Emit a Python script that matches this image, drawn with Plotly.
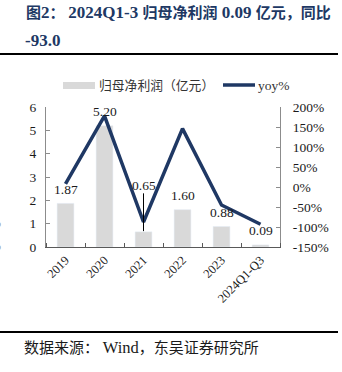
import plotly.graph_objects as go

categories = ["2019", "2020", "2021", "2022", "2023", "2024Q1-Q3"]
profit = [1.87, 5.20, 0.65, 1.60, 0.88, 0.09]
yoy = [8, 178, -87.5, 146, -45, -93]
profit_labels = ["1.87", "5.20", "0.65", "1.60", "0.88", "0.09"]
left_ticks = [0, 1, 2, 3, 4, 5, 6]
right_ticks = [-150, -100, -50, 0, 50, 100, 150, 200]
right_tick_text = ["-150%", "-100%", "-50%", "0%", "50%", "100%", "150%", "200%"]

SERIF = "Times New Roman, Liberation Serif, serif"
CJK = "Liberation Serif, Noto Sans CJK SC, sans-serif"

W, H = 342, 372
ML, MR, MT, MB = 46, 62, 107, 125
PW, PH = W - ML - MR, H - MT - MB


def px(x):
    return (x - ML) / PW


def py(y):
    return (H - MB - y) / PH


def lat(s, size):
    return f'<span style="font-size:{size}px">{s}</span>'


xs = list(range(len(categories)))

fig = go.Figure()
fig.add_trace(go.Bar(x=xs, y=profit, marker_color="#d9d9d9", width=0.43,
                     name="归母净利润（亿元）", showlegend=False))
fig.add_trace(go.Scatter(x=xs, y=yoy, yaxis="y2", mode="lines",
                         line=dict(color="#1f3864", width=3.5), name="yoy%", showlegend=False))

annotations = []
label_shift = {2: 46}
for i, (v, t) in enumerate(zip(profit, profit_labels)):
    annotations.append(dict(x=xs[i], y=v, xref="x", yref="y", text=t, showarrow=False,
                            yanchor="middle", yshift=label_shift.get(i, 14),
                            font=dict(family=SERIF, size=13.5, color="#1a1a1a")))

# leader line for 2021 label
shapes = [dict(type="line", xref="x", yref="y", x0=xs[2], x1=xs[2],
               y0=0.68, y1=2.3, line=dict(color="#000000", width=1))]

# legend (manual)
shapes.append(dict(type="rect", xref="paper", yref="paper", x0=px(63), x1=px(95),
                   y0=py(89), y1=py(82), fillcolor="#d9d9d9", line=dict(width=0)))
annotations.append(dict(x=px(97), y=py(85.5), xref="paper", yref="paper", xanchor="left",
                        yanchor="middle", text="归母净利润（亿元）", showarrow=False,
                        font=dict(family=CJK, size=12.8, color="#333333")))
shapes.append(dict(type="line", xref="paper", yref="paper", x0=px(223), x1=px(255),
                   y0=py(85), y1=py(85), line=dict(color="#1f3864", width=3.5)))
annotations.append(dict(x=px(256), y=py(85.5), xref="paper", yref="paper", xanchor="left",
                        yanchor="middle", text="yoy%", showarrow=False,
                        font=dict(family=SERIF, size=13.5, color="#333333")))

# title
title1 = ("<b>图" + lat("2", 17) + "： " + lat("2024Q1-3 ", 17) + "归母净利润"
          + lat(" 0.09 ", 17) + "亿元，同比</b>")
annotations.append(dict(x=px(24), y=py(12), xref="paper", yref="paper", xanchor="left",
                        yanchor="middle", showarrow=False, text=title1,
                        font=dict(family=CJK, size=15, color="#203864")))
annotations.append(dict(x=px(23), y=py(41), xref="paper", yref="paper", xanchor="left",
                        yanchor="middle", showarrow=False, text="<b>-93.0</b>",
                        font=dict(family=CJK, size=17, color="#203864")))
shapes.append(dict(type="line", xref="paper", yref="paper", x0=px(0), x1=px(338),
                   y0=py(54), y1=py(54), line=dict(color="#000000", width=2)))
shapes.append(dict(type="line", xref="paper", yref="paper", x0=px(0), x1=px(338),
                   y0=py(332), y1=py(332), line=dict(color="#000000", width=2)))
source = "数据来源： " + lat("Wind", 16.5) + "，东吴证券研究所"
annotations.append(dict(x=px(22), y=py(347), xref="paper", yref="paper", xanchor="left",
                        yanchor="middle", showarrow=False, text=source,
                        font=dict(family=CJK, size=15, color="#1a1a1a")))
# clipped glyphs at left edge
for yy in (223, 246):
    annotations.append(dict(x=px(3), y=py(yy), xref="paper", yref="paper", xanchor="right",
                            yanchor="middle", showarrow=False, text="%",
                            font=dict(family=SERIF, size=12, color="#999999")))

fig.update_layout(
    width=W, height=H, margin=dict(l=ML, r=MR, t=MT, b=MB),
    paper_bgcolor="white", plot_bgcolor="white", showlegend=False,
    xaxis=dict(range=[-0.5, len(categories) - 0.5], tickvals=xs, ticktext=categories,
               tickangle=-45, ticks="", showline=True, linecolor="#595959",
               linewidth=1, showgrid=False, zeroline=False,
               minor=dict(tick0=0.5, dtick=1, ticks="inside", ticklen=4,
                          tickcolor="#595959", showgrid=False),
               tickfont=dict(family=SERIF, size=12.5, color="#1a1a1a")),
    yaxis=dict(range=[0, 6], tickvals=left_ticks, ticks="inside", ticklen=4,
               tickcolor="#8c8c8c", showline=True, linecolor="#8c8c8c", linewidth=1,
               showgrid=False, zeroline=False, ticklabelstandoff=6,
               tickfont=dict(family=SERIF, size=13.5, color="#1a1a1a")),
    yaxis2=dict(range=[-150, 200], overlaying="y", side="right", tickvals=right_ticks,
                ticktext=right_tick_text, ticks="inside", ticklen=4, tickcolor="#8c8c8c",
                showline=True, linecolor="#8c8c8c", linewidth=1, showgrid=False,
                zeroline=False, ticklabelstandoff=9,
                tickfont=dict(family=SERIF, size=13.5, color="#1a1a1a")),
    annotations=annotations, shapes=shapes,
)

fig.write_html("out.html")
